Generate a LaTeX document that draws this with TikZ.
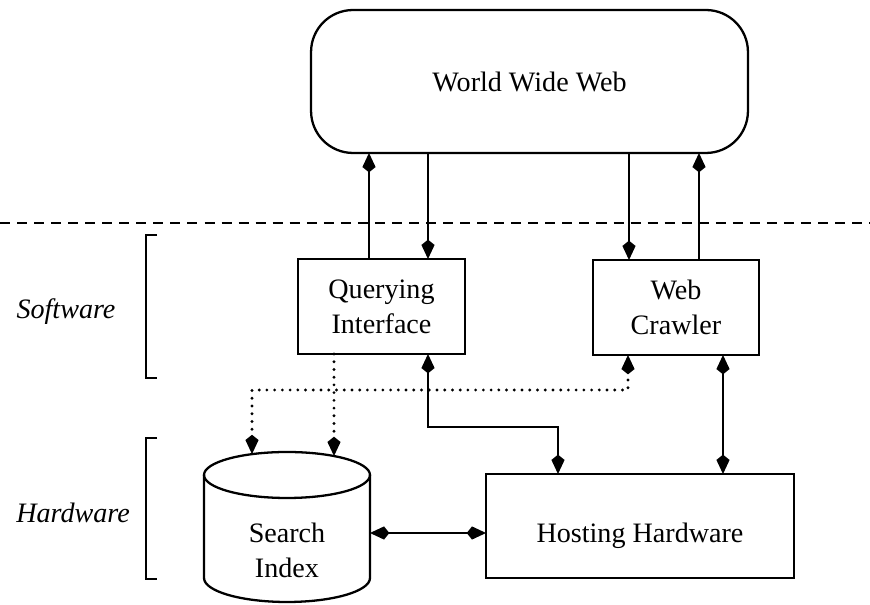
\documentclass[tikz,border=0pt]{standalone}
\usepackage{fontspec}
\setmainfont{Liberation Serif}
\usetikzlibrary{arrows.meta,shapes.geometric}

\tikzstyle{box}=[draw, line width=1.3pt, inner sep=0pt, outer sep=0pt, align=center]
\tikzstyle{link}=[line width=1.3pt]
\tikzstyle{dots}=[line width=1.8pt, line cap=round, dash pattern=on 0pt off 4.4pt]
\tikzstyle{tip}=[>={Kite[length=11pt,width=7.5pt,inset=3pt]}]

% x positions of the vertical links, y of the turns
\newcommand{\lanes}{
    \coordinate (qa) at (369,0);
    \coordinate (qb) at (428,0);
    \coordinate (ca) at (629,0);
    \coordinate (cb) at (699,0);
    \coordinate (hc) at (558,0);
    \coordinate (cc) at (723,0);
    \coordinate (dl) at (252,0);
    \coordinate (dr) at (334,0);
    \coordinate (dc) at (628,0);

    \coordinate (bend) at (0,178);
    \coordinate (jn)   at (0,215);
    \coordinate (cylr) at (370,72);
}

\begin{document}
\begin{tikzpicture}[x=0.02cm, y=0.02cm, tip]
    \fontsize{16}{20}\selectfont
    \useasboundingbox (0,0) rectangle (870,605);
    \lanes;

    \node[box, rounded corners=0.84cm, minimum width=8.74cm, minimum height=2.86cm]
        (www) at (529.5,523.5) {World Wide Web};

    \draw[line width=1.1pt, dash pattern=on 5.7pt off 4pt] (0,382) -- (870,382);

    \node[box, minimum width=3.34cm, minimum height=1.9cm] (query)   at (381.5,298.5) {Querying\\Interface};
    \node[box, minimum width=3.32cm, minimum height=1.9cm] (crawler) at (676,297.5)   {Web\\Crawler};
    \node[box, minimum width=6.16cm, minimum height=2.08cm, text height=22pt] (host) at (640,79) {Hosting Hardware};

    % search index cylinder
    \node[draw, ellipse, line width=1.3pt, inner sep=0pt, outer sep=0pt,
          minimum width=3.32cm, minimum height=0.92cm] (indextop) at (287,130) {};
    \draw[line width=1.3pt] (indextop.west) -- ++(0,-103)
        arc[start angle=180, end angle=360, x radius=1.66cm, y radius=0.48cm]
        -- (indextop.east);
    \node[align=center] (index) at (287,55) {Search\\Index};

    % brackets
    \draw[line width=1pt] (157,370) -- (146,370) -- (146,227) -- (157,227);
    \draw[line width=1pt] (157,167) -- (146,167) -- (146,26)  -- (157,26);
    \node[font=\itshape] (soft) at (66,293) {Software};
    \node[font=\itshape] (hard) at (73,92)  {Hardware};

    \draw[link,->] (query.north -| qa) -- (qa |- www.south);
    \draw[link,->] (qb |- www.south)   -- (query.north -| qb);
    \draw[link,->] (ca |- www.south)   -- (crawler.north -| ca);
    \draw[link,->] (crawler.north -| cb) -- (cb |- www.south);

    \draw[link,<->] (query.south -| qb) -- (qb |- bend) -- (hc |- bend) -- (hc |- host.north);
    \draw[link,<->] (crawler.south -| cc) -- (cc |- host.north);
    \draw[link,<->] (cylr) -- (cylr -| host.west);

    \draw[dots,->]  (query.south -| dr) -- (dr |- indextop.22);
    \draw[dots,<->] (crawler.south -| dc) -- (dc |- jn) -- (dl |- jn) -- (dl |- indextop.149);
\end{tikzpicture}
\end{document}
